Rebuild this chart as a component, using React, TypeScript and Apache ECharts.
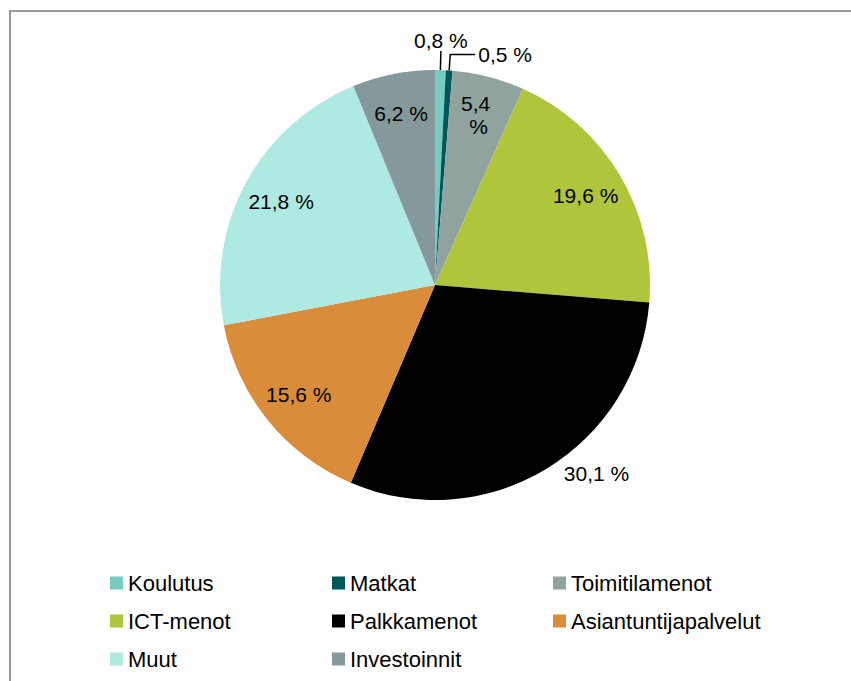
import React, { useEffect, useRef } from 'react';
import * as echarts from 'echarts';

const categories = ['Koulutus', 'Matkat', 'Toimitilamenot', 'ICT-menot', 'Palkkamenot', 'Asiantuntijapalvelut', 'Muut', 'Investoinnit'];
const shares = [0.8, 0.5, 5.4, 19.6, 30.1, 15.6, 21.8, 6.2];
const colors = ['#77CBC1', '#00575A', '#91A39F', '#AFC53C', '#000000', '#D98C3A', '#AEEAE2', '#85989B'];
const legendColumns = [
  ['Koulutus', 'ICT-menot', 'Muut'],
  ['Matkat', 'Palkkamenot', 'Investoinnit'],
  ['Toimitilamenot', 'Asiantuntijapalvelut'],
];
const outsideLabelItems = ['Koulutus', 'Matkat', 'Palkkamenot'];

const FONT = '"Liberation Sans", Arial, sans-serif';
const FS = 21;
const LEGEND_FS = 22;
const fmt = (v: number) => v.toFixed(1).replace('.', ',') + ' %';

const outsideStyles: Record<string, any> = {
  Koulutus: {
    label: { show: true, position: 'outside', distanceToLabelLine: 0 },
    labelLine: { show: true, length: 19, length2: 0, lineStyle: { color: '#000', width: 1.5 } },
  },
  Matkat: {
    label: { show: true, position: 'outside', distanceToLabelLine: 3 },
    labelLine: { show: true, length: 16, length2: 25, lineStyle: { color: '#000', width: 1.5 } },
  },
  Palkkamenot: {
    label: { show: true, position: 'outside', distanceToLabelLine: 5 },
    labelLine: { show: false, length: 5, length2: 10 },
  },
};

export default function App() {
  const ref = useRef<HTMLDivElement>(null);
  useEffect(() => {
    if (!ref.current) return;
    const chart = echarts.init(ref.current, undefined, { renderer: 'svg' });
    const center = [435, 285];
    const legendLefts = [110, 332, 553];
    chart.setOption({
      animation: false,
      backgroundColor: '#fff',
      textStyle: { fontFamily: FONT },
      graphic: [
        {
          type: 'rect',
          silent: true,
          shape: { x: 10, y: 11, width: 900, height: 900 },
          style: { fill: 'none', stroke: '#999', lineWidth: 2 },
        },
      ],
      legend: legendColumns.map((col, i) => ({
        orient: 'vertical',
        left: legendLefts[i],
        top: 572,
        padding: 0,
        data: col,
        icon: 'rect',
        itemWidth: 13,
        itemHeight: 13,
        itemGap: 16,
        selectedMode: false,
        textStyle: { fontSize: LEGEND_FS, color: '#000', fontFamily: FONT },
      })),
      series: [
        {
          type: 'pie',
          center,
          radius: [0, 215],
          startAngle: 90,
          clockwise: true,
          avoidLabelOverlap: false,
          emphasis: { disabled: true },
          itemStyle: { borderWidth: 0 },
          label: { show: false, fontSize: FS, color: '#000', fontFamily: FONT, formatter: (p: any) => fmt(p.value) },
          labelLine: { show: false },
          labelLayout: (p: any) =>
            p.dataIndex === 0 ? { align: 'center', verticalAlign: 'bottom' } : {},
          data: categories.map((name, i) => ({
            name,
            value: shares[i],
            itemStyle: { color: colors[i] },
            ...(outsideStyles[name] || {}),
          })),
        },
        {
          type: 'pie',
          center,
          radius: [129, 215],
          startAngle: 90,
          clockwise: true,
          silent: true,
          avoidLabelOverlap: false,
          emphasis: { disabled: true },
          itemStyle: { color: 'rgba(0,0,0,0)', borderWidth: 0 },
          label: {
            show: true,
            position: 'inside',
            fontSize: FS,
            color: '#000',
            fontFamily: FONT,
            lineHeight: 23,
            formatter: (p: any) => fmt(p.value),
          },
          labelLine: { show: false },
          data: categories.map((name, i) => ({
            name,
            value: shares[i],
            itemStyle: { color: 'rgba(0,0,0,0)' },
            label: outsideLabelItems.includes(name)
              ? { show: false }
              : name === 'Toimitilamenot'
              ? { width: 40, overflow: 'break' }
              : {},
          })),
        },
      ],
    });
    return () => chart.dispose();
  }, []);
  return <div ref={ref} style={{ position: 'fixed', left: 0, top: 0, width: 851, height: 681 }} />;
}
